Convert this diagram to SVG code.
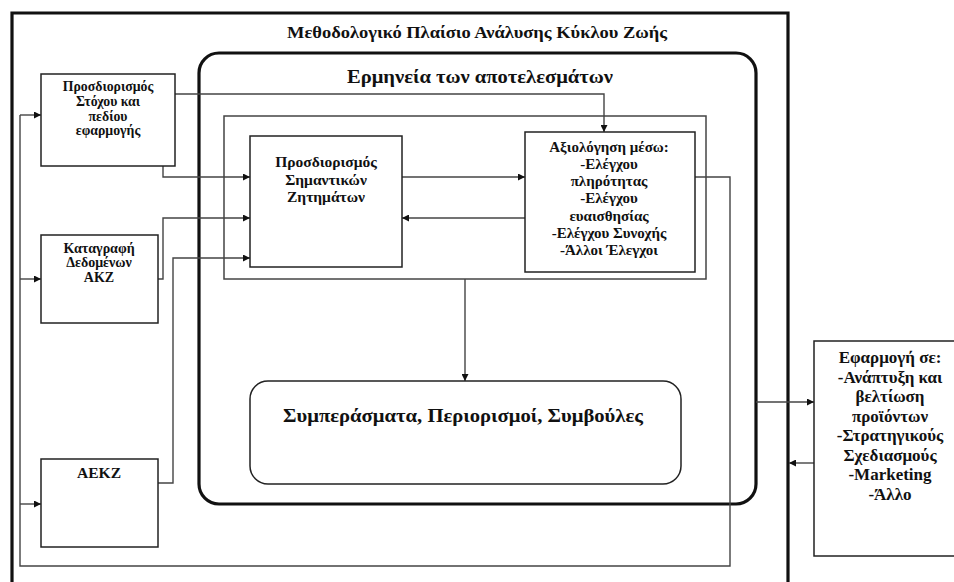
<svg xmlns="http://www.w3.org/2000/svg" width="954" height="582" viewBox="0 0 954 582">
<defs>
<marker id="ah" viewBox="0 0 10 10" refX="10" refY="5" markerWidth="9" markerHeight="7" markerUnits="userSpaceOnUse" orient="auto">
<path d="M0,0 L10,5 L0,10 z" fill="#111"/>
</marker>
<style>
.t{font-family:"Liberation Serif","Times New Roman",serif;font-weight:bold;fill:#111;text-anchor:middle}
.box{fill:#fff;stroke:#222;stroke-width:1.5}
.thick{fill:none;stroke:#111;stroke-width:3.2}
.c{fill:none;stroke:#444;stroke-width:1.4}
.ca{fill:none;stroke:#444;stroke-width:1.4;marker-end:url(#ah)}
</style>
</defs>
<rect width="954" height="582" fill="#fff"/>
<g id="frame">
<path class="thick" d="M12,600 L12,13 L788,13 L788,600"/>
<text class="t" x="477" y="38" font-size="16.5" textLength="380" lengthAdjust="spacingAndGlyphs">Μεθοδολογικό Πλαίσιο Ανάλυσης Κύκλου Ζωής</text>
</g>
<g id="interpretation">
<rect class="thick" x="199" y="53" width="557" height="451" rx="20"/>
<text class="t" x="480" y="83" font-size="19" textLength="266" lengthAdjust="spacingAndGlyphs">Ερμηνεία των αποτελεσμάτων</text>
</g>
<g id="inner-group">
<rect x="224" y="116" width="482" height="163" fill="none" stroke="#444" stroke-width="1.5"/>
</g>
<g id="connectors">
<path class="ca" d="M175,94 L604,94 L604,132"/>
<path class="ca" d="M163,166 L163,177 L250,177"/>
<path class="ca" d="M158,279 L163,279 L163,218 L250,218"/>
<path class="ca" d="M158,483 L173,483 L173,258 L250,258"/>
<path class="ca" d="M402,177 L525,177"/>
<path class="ca" d="M525,218 L402,218"/>
<path class="ca" d="M465,279 L465,381"/>
<path class="c" d="M695,177 L730,177 L730,566 L20,566 L20,115"/>
<path class="ca" d="M20,115 L41,115"/>
<path class="ca" d="M20,279 L41,279"/>
<path class="ca" d="M20,504 L41,504"/>
<path class="ca" d="M756,402 L814,402"/>
<path class="ca" d="M814,463 L789,463"/>
</g>
<g id="goal">
<rect class="box" x="41" y="74" width="134" height="92"/>
<text class="t" font-size="13.8"><tspan x="108" y="91">Προσδιορισμός</tspan><tspan x="108" y="106">Στόχου και</tspan><tspan x="108" y="121">πεδίου</tspan><tspan x="108" y="135">εφαρμογής</tspan></text>
</g>
<g id="inventory">
<rect class="box" x="41" y="235" width="117" height="88"/>
<text class="t" font-size="14"><tspan x="99" y="253">Καταγραφή</tspan><tspan x="99" y="267">Δεδομένων</tspan><tspan x="99" y="282">ΑΚΖ</tspan></text>
</g>
<g id="aekz">
<rect class="box" x="41" y="459" width="117" height="88"/>
<text class="t" font-size="14.5" x="99" y="478" textLength="44" lengthAdjust="spacingAndGlyphs">ΑΕΚΖ</text>
</g>
<g id="issues">
<rect class="box" x="250" y="136" width="152" height="131"/>
<text class="t" font-size="15.5"><tspan x="326" y="167">Προσδιορισμός</tspan><tspan x="326" y="185">Σημαντικών</tspan><tspan x="326" y="202">Ζητημάτων</tspan></text>
</g>
<g id="evaluation">
<rect class="box" x="525" y="132" width="170" height="140"/>
<text class="t" font-size="15"><tspan x="609" y="152">Αξιολόγηση μέσω:</tspan><tspan x="609" y="169">-Ελέγχου</tspan><tspan x="609" y="186">πληρότητας</tspan><tspan x="609" y="203">-Ελέγχου</tspan><tspan x="609" y="221">ευαισθησίας</tspan><tspan x="609" y="238">-Ελέγχου Συνοχής</tspan><tspan x="609" y="255">-Άλλοι Έλεγχοι</tspan></text>
</g>
<g id="conclusions">
<rect class="box" x="250" y="381" width="431" height="103" rx="18"/>
<text class="t" x="463" y="422" font-size="19" textLength="360" lengthAdjust="spacingAndGlyphs">Συμπεράσματα, Περιορισμοί, Συμβούλες</text>
</g>
<g id="application">
<rect class="box" x="814" y="341" width="150" height="215"/>
<text class="t" font-size="17"><tspan x="890" y="363">Εφαρμογή σε:</tspan><tspan x="890" y="383">-Ανάπτυξη και</tspan><tspan x="890" y="402">βελτίωση</tspan><tspan x="890" y="422">προϊόντων</tspan><tspan x="890" y="441">-Στρατηγικούς</tspan><tspan x="890" y="461">Σχεδιασμούς</tspan><tspan x="890" y="480">-Marketing</tspan><tspan x="890" y="500">-Άλλο</tspan></text>
</g>
</svg>
